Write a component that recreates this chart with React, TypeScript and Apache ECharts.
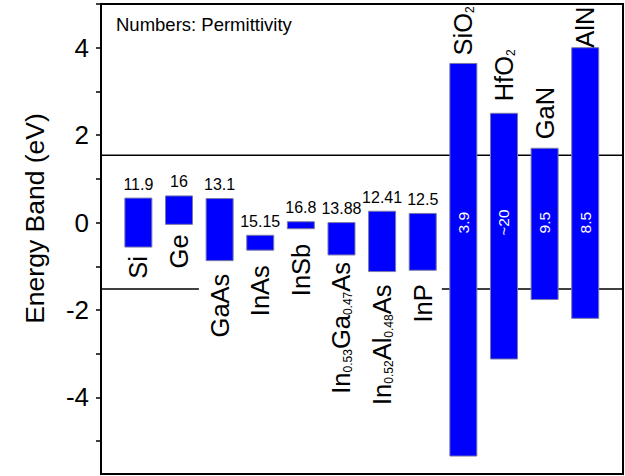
import React, { useEffect, useRef } from 'react';
import * as echarts from 'echarts';

// ---- data ----
const materials = ['Si', 'Ge', 'GaAs', 'InAs', 'InSb', 'In0.53Ga0.47As', 'In0.52Al0.48As', 'InP', 'SiO2', 'HfO2', 'GaN', 'AlN'];
const materialRich = [
  '{m|Si}', '{m|Ge}', '{m|GaAs}', '{m|InAs}', '{m|InSb}',
  '{m|In}{s|0.53}{m|Ga}{s|0.47}{m|As}',
  '{m|In}{s|0.52}{m|Al}{s|0.48}{m|As}',
  '{m|InP}', '{m|SiO}{s|2}', '{m|HfO}{s|2}', '{m|GaN}', '{m|AlN}',
];
const bandTop = [0.56, 0.61, 0.55, -0.29, 0.02, 0.0, 0.26, 0.21, 3.64, 2.5, 1.7, 4.0];
const bandBottom = [-0.56, -0.04, -0.87, -0.63, -0.14, -0.74, -1.12, -1.09, -5.34, -3.12, -1.76, -2.19];
const permittivity = ['11.9', '16', '13.1', '15.15', '16.8', '13.88', '12.41', '12.5', '3.9', '~20', '9.5', '8.5'];
const isInsulator = [false, false, false, false, false, false, false, false, true, true, true, true];
const upperLevel = 1.54;
const lowerLevel = -1.52;
const yLabelValues = [-4, -2, 0, 2, 4];
const yTickValues = [-5, -4, -3, -2, -1, 0, 1, 2, 3, 4, 5];

// ---- layout / style constants ----
const X_MIN = -0.92;
const X_MAX = 11.93;
const Y_MIN = -5.75;
const Y_MAX = 5;
const LOWER_LEFT_END = 1.49;
const LOWER_RIGHT_START = 7.47;
const BAR_W = 27;
const nameGap = [9, 10, 13, 15, 15, 7, 13, 14, 8, 12, 9, 0];
const FONT = 'Liberation Sans, Arial, Helvetica, sans-serif';

export default function App() {
  const ref = useRef<HTMLDivElement>(null);
  useEffect(() => {
    if (!ref.current) return;
    const chart = echarts.init(ref.current, undefined, { renderer: 'svg' });
    const lineStyle = { color: '#000', width: 1.5 };
    chart.setOption({
      animation: false,
      backgroundColor: '#fff',
      grid: { left: 101, right: 2, top: 4, bottom: 2, show: true, borderColor: '#000', borderWidth: 2, containLabel: false },
      xAxis: {
        type: 'value', min: X_MIN, max: X_MAX,
        axisLine: { show: false, onZero: false }, axisTick: { show: false }, axisLabel: { show: false }, splitLine: { show: false },
      },
      yAxis: {
        type: 'value', min: Y_MIN, max: Y_MAX,
        name: 'Energy Band (eV)', nameLocation: 'middle', nameGap: 53,
        nameTextStyle: { fontSize: 26.5, color: '#000', fontFamily: FONT, padding: [0, 0, 0, 41] },
        axisLine: { show: true, onZero: false, lineStyle: { color: '#000', width: 2 } },
        axisTick: { show: true, customValues: yTickValues, length: 5, lineStyle: { color: '#000', width: 1.5 } },
        axisLabel: { customValues: yLabelValues, fontSize: 26, color: '#000', fontFamily: FONT, margin: 12 },
        splitLine: { show: false },
      },
      graphic: [
        { type: 'text', left: 116, top: 15, style: { text: 'Numbers: Permittivity', fontSize: 18.5, fill: '#000', fontFamily: FONT } },
      ],
      series: [
        { type: 'line', data: [[X_MIN, upperLevel], [X_MAX, upperLevel]], symbol: 'none', lineStyle, z: 1, silent: true },
        { type: 'line', data: [[X_MIN, lowerLevel], [LOWER_LEFT_END, lowerLevel]], symbol: 'none', lineStyle, z: 1, silent: true },
        { type: 'line', data: [[LOWER_RIGHT_START, lowerLevel], [X_MAX, lowerLevel]], symbol: 'none', lineStyle, z: 1, silent: true },
        {
          type: 'custom', z: 5,
          data: materials.map((_, i) => [i, bandBottom[i], bandTop[i]]),
          renderItem: (params: any, api: any) => {
            const i = api.value(0);
            const lo = api.coord([i, api.value(1)]);
            const hi = api.coord([i, api.value(2)]);
            const zero = api.coord([i, 0]);
            const cx = lo[0];
            const ins = isInsulator[i];
            const children: any[] = [
              {
                type: 'rect',
                shape: { x: cx - BAR_W / 2, y: hi[1], width: BAR_W, height: lo[1] - hi[1] },
                style: { fill: '#0000ff', stroke: '#7a7aa8', lineWidth: 1 },
              },
            ];
            const rich = {
              m: { fontSize: 25.5, fontFamily: FONT, fill: '#000' },
              s: { fontSize: 12, fontFamily: FONT, fill: '#000', verticalAlign: 'bottom' },
            };
            if (ins) {
              children.push({
                type: 'text', x: cx, y: hi[1] - nameGap[i], rotation: Math.PI / 2,
                style: { text: materialRich[i], rich, align: 'left', verticalAlign: 'middle' },
              });
              children.push({
                type: 'text', x: cx, y: zero[1], rotation: Math.PI / 2,
                style: { text: permittivity[i], fontSize: 15.5, fontFamily: FONT, fill: '#fff', align: 'center', verticalAlign: 'middle' },
              });
            } else {
              children.push({
                type: 'text', x: cx, y: lo[1] + nameGap[i], rotation: Math.PI / 2,
                style: { text: materialRich[i], rich, align: 'right', verticalAlign: 'middle' },
              });
              children.push({
                type: 'text', x: cx, y: hi[1] - 6,
                style: { text: permittivity[i], fontSize: 16, fontFamily: FONT, fill: '#000', align: 'center', verticalAlign: 'bottom' },
              });
            }
            return { type: 'group', children };
          },
        },
      ],
    });
    return () => chart.dispose();
  }, []);
  return <div ref={ref} style={{ position: 'fixed', left: 0, top: 0, width: 625, height: 476 }} />;
}
